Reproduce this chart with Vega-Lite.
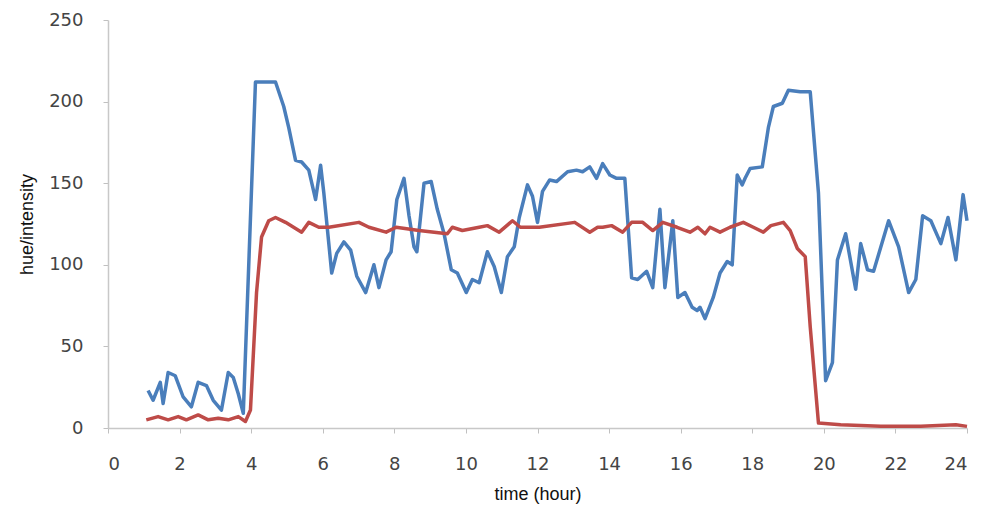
{
  "$schema": "https://vega.github.io/schema/vega-lite/v6.json",
  "autosize": {"type": "none"},
  "width": 859,
  "height": 408,
  "padding": {"left": 108, "top": 20, "right": 19, "bottom": 85},
  "background": "white",
  "config": {"view": {"stroke": null}},
  "datasets": {
    "hue": [
      [1.12,23],[1.26,17],[1.46,28],[1.54,15],[1.68,34],[1.88,32],[2.10,19],[2.33,13],[2.52,28],[2.75,26],[2.94,17],[3.17,11],[3.36,34],[3.50,31],[3.64,21],[3.78,9],[4.12,212],[4.68,212],[4.91,197],[5.05,184],[5.24,164],[5.41,163],[5.61,158],[5.80,140],[5.94,161],[6.03,144],[6.25,95],[6.39,107],[6.59,114],[6.78,109],[6.95,93],[7.20,83],[7.43,100],[7.57,86],[7.77,103],[7.91,108],[8.07,140],[8.27,153],[8.41,130],[8.55,111],[8.63,108],[8.83,150],[9.03,151],[9.20,134],[9.39,119],[9.59,97],[9.76,95],[10.01,83],[10.18,91],[10.37,89],[10.60,108],[10.79,99],[10.99,83],[11.16,105],[11.35,111],[11.49,129],[11.72,149],[11.86,142],[12.00,126],[12.14,145],[12.34,152],[12.53,151],[12.84,157],[13.09,158],[13.26,157],[13.46,160],[13.65,153],[13.82,162],[14.02,155],[14.21,153],[14.44,153],[14.63,92],[14.80,91],[15.05,96],[15.22,86],[15.42,134],[15.56,86],[15.78,127],[15.92,80],[16.12,83],[16.32,74],[16.46,72],[16.54,74],[16.68,67],[16.91,80],[17.10,95],[17.30,102],[17.44,100],[17.58,155],[17.72,149],[17.80,153],[17.94,159],[18.28,160],[18.45,184],[18.59,197],[18.84,199],[19.01,207],[19.34,206],[19.62,206],[19.85,144],[20.05,29],[20.24,40],[20.38,103],[20.61,119],[20.89,85],[21.03,113],[21.22,97],[21.39,96],[21.81,127],[22.09,111],[22.37,83],[22.57,91],[22.76,130],[22.99,127],[23.27,113],[23.47,129],[23.69,103],[23.89,143],[24.0,127]
    ],
    "intensity": [
      [1.07,5],[1.40,7],[1.68,5],[1.96,7],[2.19,5],[2.52,8],[2.80,5],[3.08,6],[3.36,5],[3.64,7],[3.84,4],[3.98,11],[4.15,83],[4.29,117],[4.49,127],[4.68,129],[4.96,126],[5.41,120],[5.61,126],[5.89,123],[6.17,123],[7.01,126],[7.29,123],[7.77,120],[8.05,123],[8.69,121],[9.48,119],[9.62,123],[9.90,121],[10.37,123],[10.60,124],[10.93,120],[11.30,127],[11.52,123],[12.05,123],[13.04,126],[13.46,120],[13.68,123],[13.82,123],[14.07,124],[14.38,120],[14.63,126],[14.94,126],[15.22,121],[15.50,126],[15.90,123],[16.26,120],[16.48,123],[16.68,119],[16.82,123],[17.10,120],[17.38,123],[17.75,126],[18.03,123],[18.31,120],[18.52,124],[18.87,126],[19.06,121],[19.26,110],[19.48,105],[19.62,62],[19.85,3],[20.47,2],[21.59,1],[22.71,1],[23.69,2],[24.0,1]
    ]
  },
  "layer": [
    {
      "data": {"name": "hue"},
      "transform": [
        {"calculate": "datum[0]", "as": "time"},
        {"calculate": "datum[1]", "as": "value"}
      ],
      "mark": {"type": "line", "color": "#4A7EBB", "strokeWidth": 3.5, "strokeJoin": "round"},
      "encoding": {
        "x": {"field": "time", "type": "quantitative", "scale": {"domain": [0, 24], "nice": false},
          "axis": {"title": "time (hour)", "values": [0,2,4,6,8,10,12,14,16,18,20,22,24], "grid": false,
            "domainColor": "#c8c8c8", "domainWidth": 1.5, "tickColor": "#c0c0c0", "tickSize": 5,
            "labelFont": "DejaVu Sans", "labelFontSize": 18, "labelColor": "#444444", "labelPadding": 22,
            "titleFont": "Liberation Sans", "titleFontSize": 18, "titleFontWeight": "normal", "titleColor": "#111111", "titlePadding": 12}},
        "y": {"field": "value", "type": "quantitative", "scale": {"domain": [0, 250], "nice": false},
          "axis": {"title": "hue/intensity", "values": [0,50,100,150,200,250], "grid": false,
            "domainColor": "#c8c8c8", "domainWidth": 1.5, "tickColor": "#c0c0c0", "tickSize": 5,
            "labelFont": "DejaVu Sans", "labelFontSize": 18, "labelColor": "#444444", "labelPadding": 20,
            "titleFont": "Liberation Sans", "titleFontSize": 18, "titleFontWeight": "normal", "titleColor": "#111111", "titlePadding": 12}}
      }
    },
    {
      "data": {"name": "intensity"},
      "transform": [
        {"calculate": "datum[0]", "as": "time"},
        {"calculate": "datum[1]", "as": "value"}
      ],
      "mark": {"type": "line", "color": "#BE4B48", "strokeWidth": 3.5, "strokeJoin": "round"},
      "encoding": {
        "x": {"field": "time", "type": "quantitative"},
        "y": {"field": "value", "type": "quantitative"}
      }
    }
  ]
}
